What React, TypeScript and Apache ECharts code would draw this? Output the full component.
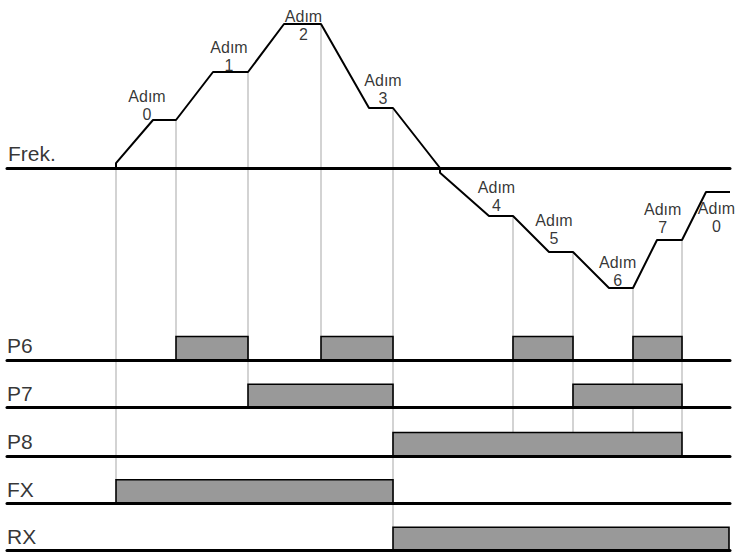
import React, { useEffect, useRef } from "react";
import * as echarts from "echarts";

// time axis (arbitrary time units) and frequency (Hz)
const TIME_MIN = 0;
const TIME_MAX = 723;
const FREQ_MIN = -60;
const FREQ_MAX = 70;

const freqAxisName = "Frek.";
const freqTimes = [109, 109, 146, 169, 206, 241, 277, 314, 362, 386, 433, 433, 482, 506, 542, 566, 602, 626, 650, 675, 699, 723];
const freqValues = [0, 2, 20, 20, 40, 40, 60, 60, 25, 25, 0, -2, -20, -20, -35, -35, -50, -50, -30, -30, -10, -10];

const stepWord = "Adım";
const stepNames = ["0", "1", "2", "3", "4", "5", "6", "7", "0"];
const stepLabelTimes = [140, 222, 296.5, 376, 489.5, 547, 610.7, 655.7, 709.5];
const stepLabelFreqs = [26, 46.4, 59.5, 32.6, -12, -25.7, -43.2, -21, -20.5];

const rowNames = ["P6", "P7", "P8", "FX", "RX"];
const rowOnTimes = [[169, 314, 506, 626], [241, 566], [386], [109], [386]];
const rowOffTimes = [[241, 386, 566, 675], [386, 675], [675], [386], [722]];

// vertical guide lines: time, starting frequency level, row whose pulse they reach
const guideTimes = [109, 169, 241, 314, 386, 506, 566, 626, 675];
const guideLevels = [0, 20, 40, 60, 25, -20, -35, -50, -30];
const guideRows = [3, 0, 1, 0, 4, 2, 2, 2, 2];

const FONT = "'Liberation Sans', Arial, sans-serif";
const rowBaselines = [360, 407.7, 456, 503.3, 550.7];
const ROW_H = 23.5;

export default function App() {
  const ref = useRef<HTMLDivElement>(null);
  useEffect(() => {
    if (!ref.current) return;
    const chart = echarts.init(ref.current, null, { renderer: "svg" });

    const grids: any[] = [{ left: 7, right: 5, top: 0, height: 312 }];
    rowBaselines.forEach((b) => grids.push({ left: 7, right: 5, top: b - ROW_H, height: ROW_H }));

    const axisLine = { show: true, onZero: true, lineStyle: { color: "#000", width: 3 } };
    const xAxes = grids.map((_, i) => ({
      type: "value",
      gridIndex: i,
      min: TIME_MIN,
      max: TIME_MAX,
      axisLine,
      axisTick: { show: false },
      axisLabel: { show: false },
      splitLine: { show: false },
      z: 10,
    }));
    const yAxes = grids.map((_, i) => ({
      type: "value",
      gridIndex: i,
      min: i === 0 ? FREQ_MIN : 0,
      max: i === 0 ? FREQ_MAX : 1,
      show: false,
    }));

    const series: any[] = [
      {
        type: "line",
        xAxisIndex: 0,
        yAxisIndex: 0,
        data: freqTimes.map((t, i) => [t, freqValues[i]]),
        symbol: "none",
        lineStyle: { color: "#000", width: 2 },
        z: 5,
      },
      {
        type: "scatter",
        xAxisIndex: 0,
        yAxisIndex: 0,
        symbolSize: 0,
        data: stepLabelTimes.map((t, i) => ({ value: [t, stepLabelFreqs[i]], name: stepNames[i] })),
        label: {
          show: true,
          position: "inside",
          formatter: (p: any) => `${stepWord}\n${p.name}`,
          fontFamily: FONT,
          fontSize: 16,
          lineHeight: 18,
          color: "#000",
          align: "center",
          verticalAlign: "middle",
        },
        z: 6,
      },
      {
        type: "scatter",
        xAxisIndex: 0,
        yAxisIndex: 0,
        symbolSize: 0,
        data: [{ value: [0, 6], name: freqAxisName }],
        label: {
          show: true,
          position: "right",
          distance: 1,
          formatter: (p: any) => p.name,
          fontFamily: FONT,
          fontSize: 21,
          color: "#000",
        },
      },
    ];

    rowNames.forEach((name, r) => {
      series.push({
        type: "custom",
        xAxisIndex: r + 1,
        yAxisIndex: r + 1,
        data: rowOnTimes[r].map((t, i) => [t, rowOffTimes[r][i]]),
        encode: { x: [0, 1] },
        renderItem: (params: any, api: any) => {
          const a = api.coord([api.value(0), 1]);
          const b = api.coord([api.value(1), 0]);
          return {
            type: "rect",
            shape: { x: a[0], y: a[1], width: b[0] - a[0], height: b[1] - a[1] },
            style: { fill: "#999999", stroke: "#000", lineWidth: 1.6 },
          };
        },
        z: 5,
      });
      series.push({
        type: "scatter",
        xAxisIndex: r + 1,
        yAxisIndex: r + 1,
        symbolSize: 0,
        data: [{ value: [0, 0.6], name }],
        label: {
          show: true,
          position: "right",
          distance: 0,
          formatter: (p: any) => p.name,
          fontFamily: FONT,
          fontSize: 21,
          color: "#000",
        },
      });
    });

    chart.setOption({
      animation: false,
      backgroundColor: "#fff",
      grid: grids,
      xAxis: xAxes,
      yAxis: yAxes,
      series,
    });

    const graphics = guideTimes.map((t, i) => {
      const p0 = chart.convertToPixel({ gridIndex: 0 } as any, [t, guideLevels[i]]) as number[];
      const p1 = chart.convertToPixel({ gridIndex: guideRows[i] + 1 } as any, [t, 1]) as number[];
      return {
        type: "line",
        silent: true,
        z: 1,
        shape: { x1: p0[0], y1: p0[1], x2: p1[0], y2: p1[1] },
        style: { stroke: "#c4c4c4", lineWidth: 1.5 },
      };
    });
    chart.setOption({ graphic: graphics });

    return () => chart.dispose();
  }, []);

  return (
    <div
      ref={ref}
      style={{ position: "fixed", left: 0, top: 0, width: 735, height: 552, background: "#fff" }}
    />
  );
}
